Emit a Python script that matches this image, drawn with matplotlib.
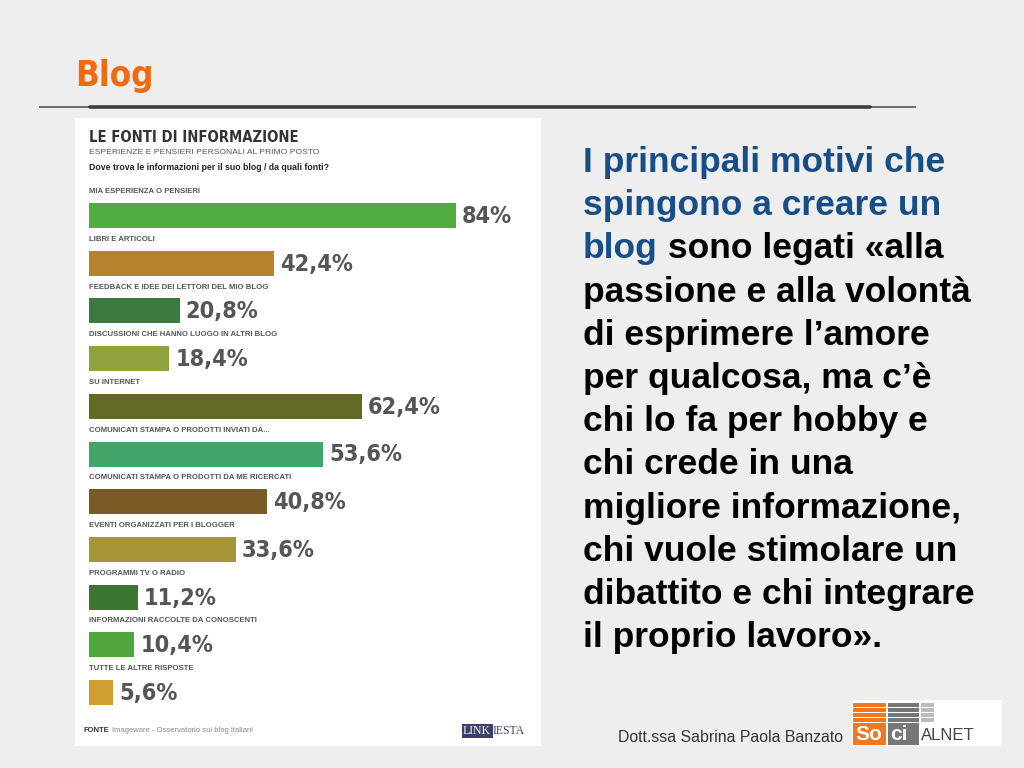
import matplotlib
matplotlib.use("Agg")
import matplotlib.pyplot as plt
from matplotlib.patches import Rectangle
from matplotlib.lines import Line2D

W, H = 1024, 768

categories = [
    "MIA ESPERIENZA O PENSIERI",
    "LIBRI E ARTICOLI",
    "FEEDBACK E IDEE DEI LETTORI DEL MIO BLOG",
    "DISCUSSIONI CHE HANNO LUOGO IN ALTRI BLOG",
    "SU INTERNET",
    "COMUNICATI STAMPA O PRODOTTI INVIATI DA...",
    "COMUNICATI STAMPA O PRODOTTI DA ME RICERCATI",
    "EVENTI ORGANIZZATI PER I BLOGGER",
    "PROGRAMMI TV O RADIO",
    "INFORMAZIONI RACCOLTE DA CONOSCENTI",
    "TUTTE LE ALTRE RISPOSTE",
]
values = [84.0, 42.4, 20.8, 18.4, 62.4, 53.6, 40.8, 33.6, 11.2, 10.4, 5.6]
value_labels = ["84%", "42,4%", "20,8%", "18,4%", "62,4%", "53,6%", "40,8%",
                "33,6%", "11,2%", "10,4%", "5,6%"]
bar_colors = ["#52ad40", "#b8812e", "#3a7a40", "#8ea23e", "#646a24", "#43a56a",
              "#7a5a25", "#a69536", "#3c7432", "#4ea63c", "#d19c30"]

COND = ["DejaVu Sans"]
ARIAL = ["Liberation Sans", "DejaVu Sans"]


def fx(x):
    return x / W


def fy(y):
    return 1 - y / H


fig = plt.figure(figsize=(W / 100, H / 100), dpi=100)
fig.patch.set_facecolor("#eeeeee")

# white chart panel
fig.add_artist(Rectangle((fx(75), fy(746)), (541 - 75) / W, (746 - 118) / H,
                         transform=fig.transFigure, facecolor="white",
                         edgecolor="none", zorder=0))

# title and separators
fig.text(fx(75), fy(76), "Blog", color="#f26a10", fontsize=25, fontweight="bold",
         family=COND, fontstretch="condensed", va="center", ha="left")
fig.add_artist(Line2D([fx(40), fx(915)], [fy(107), fy(107)], lw=1.4,
                      color="#6a6a6a", transform=fig.transFigure))
fig.add_artist(Line2D([fx(90), fx(870)], [fy(107), fy(107)], lw=2.6,
                      color="#3e3e3e", transform=fig.transFigure,
                      solid_capstyle="round"))

# chart header
fig.text(fx(89), fy(137), "LE FONTI DI INFORMAZIONE", color="#333333",
         fontsize=10.6, fontweight="bold", family=COND, fontstretch="condensed",
         va="center")
fig.text(fx(89), fy(153), "ESPERIENZE E PENSIERI PERSONALI AL PRIMO POSTO",
         color="#555555", fontsize=6.1, family=ARIAL, va="center")
fig.text(fx(89), fy(167), "Dove trova le informazioni per il suo blog / da quali fonti?",
         color="#222222", fontsize=6.3, fontweight="bold", family=ARIAL, va="center")

# bar axes
top_px, bot_px = 180, 715
c0, step = 215.5, 47.7
ax = fig.add_axes([fx(89), fy(bot_px), (540 - 89) / W, (bot_px - top_px) / H])
ax.set_xlim(0, (540 - 89) / 4.37)
ax.set_ylim((bot_px - c0) / step, (top_px - c0) / step)
ax.axis("off")
idx = list(range(len(values)))
ax.barh(idx, values, height=25 / step, color=bar_colors, edgecolor="none")
for i, (cat, v, lab) in enumerate(zip(categories, values, value_labels)):
    ax.text(0, i - 0.5, cat, color="#555555", fontsize=5.6, fontweight="bold",
            family=ARIAL, va="center", ha="left")
    ax.text(v + 1.35, i + 0.02, lab, color="#555555", fontsize=16.8,
            fontweight="bold", family=COND, fontstretch="condensed",
            va="center", ha="left")

# source
fig.text(fx(83), fy(731), "FONTE", color="#333333", fontsize=5.5,
         fontweight="bold", family=ARIAL, va="center")
fig.text(fx(111.5), fy(731), "Imageware - Osservatorio sui blog italiani",
         color="#888888", fontsize=5.5, family=ARIAL, va="center")
fig.add_artist(Rectangle((fx(462), fy(738)), 31 / W, 14 / H,
                         transform=fig.transFigure, facecolor="#3c4068",
                         edgecolor="none"))
fig.text(fx(463), fy(731), "LINK", color="white", fontsize=8.5,
         family=["Liberation Serif", "DejaVu Serif"], va="center")
fig.text(fx(493), fy(731), "IESTA", color="#3c4068", fontsize=8.5,
         family=["Liberation Serif", "DejaVu Serif"], va="center")

# right-hand text
BLUE = "#174e86"
FS = 25.5
lines = [
    [("I principali motivi che", BLUE)],
    [("spingono a creare un", BLUE)],
    [("blog", BLUE), (" sono legati «alla", "black")],
    [("passione e alla volontà", "black")],
    [("di esprimere l’amore", "black")],
    [("per qualcosa, ma c’è", "black")],
    [("chi lo fa per hobby e", "black")],
    [("chi crede in una", "black")],
    [("migliore informazione,", "black")],
    [("chi vuole stimolare un", "black")],
    [("dibattito e chi integrare", "black")],
    [("il proprio lavoro».", "black")],
]
renderer = fig.canvas.get_renderer()
for i, segs in enumerate(lines):
    yb = 172 + 43.2 * i
    xpx = 583.0
    for s, col in segs:
        t = fig.text(fx(xpx), fy(yb), s, color=col, fontsize=FS,
                     fontweight="bold", family=ARIAL, va="baseline", ha="left")
        xpx += t.get_window_extent(renderer=renderer).width

# footer
fig.text(fx(618), fy(738), "Dott.ssa Sabrina Paola Banzato", color="#333333",
         fontsize=11.4, family=ARIAL, va="center")

# SocialNet logo
fig.add_artist(Rectangle((fx(852), fy(746)), 150 / W, 46 / H,
                         transform=fig.transFigure, facecolor="white",
                         edgecolor="none"))
for k in range(4):
    y0 = 703 + k * 5
    fig.add_artist(Rectangle((fx(853), fy(y0 + 4)), 33 / W, 4 / H,
                             transform=fig.transFigure, facecolor="#f07820",
                             edgecolor="none"))
    fig.add_artist(Rectangle((fx(888), fy(y0 + 4)), 31 / W, 4 / H,
                             transform=fig.transFigure, facecolor="#777777",
                             edgecolor="none"))
    fig.add_artist(Rectangle((fx(921), fy(y0 + 4)), 13 / W, 4 / H,
                             transform=fig.transFigure, facecolor="#bbbbbb",
                             edgecolor="none"))
fig.add_artist(Rectangle((fx(853), fy(745)), 33 / W, 22 / H,
                         transform=fig.transFigure, facecolor="#f07820",
                         edgecolor="none"))
fig.add_artist(Rectangle((fx(888), fy(745)), 31 / W, 22 / H,
                         transform=fig.transFigure, facecolor="#777777",
                         edgecolor="none"))
fig.text(fx(855), fy(735), "So", color="white", fontsize=15, fontweight="bold",
         family=ARIAL, va="center")
fig.text(fx(890), fy(735), "ci", color="white", fontsize=15, fontweight="bold",
         family=ARIAL, va="center")
fig.text(fx(921), fy(735), "ALNET", color="#444444", fontsize=12,
         family=ARIAL, va="center")

fig.savefig("out.png", dpi=100, facecolor=fig.get_facecolor())
